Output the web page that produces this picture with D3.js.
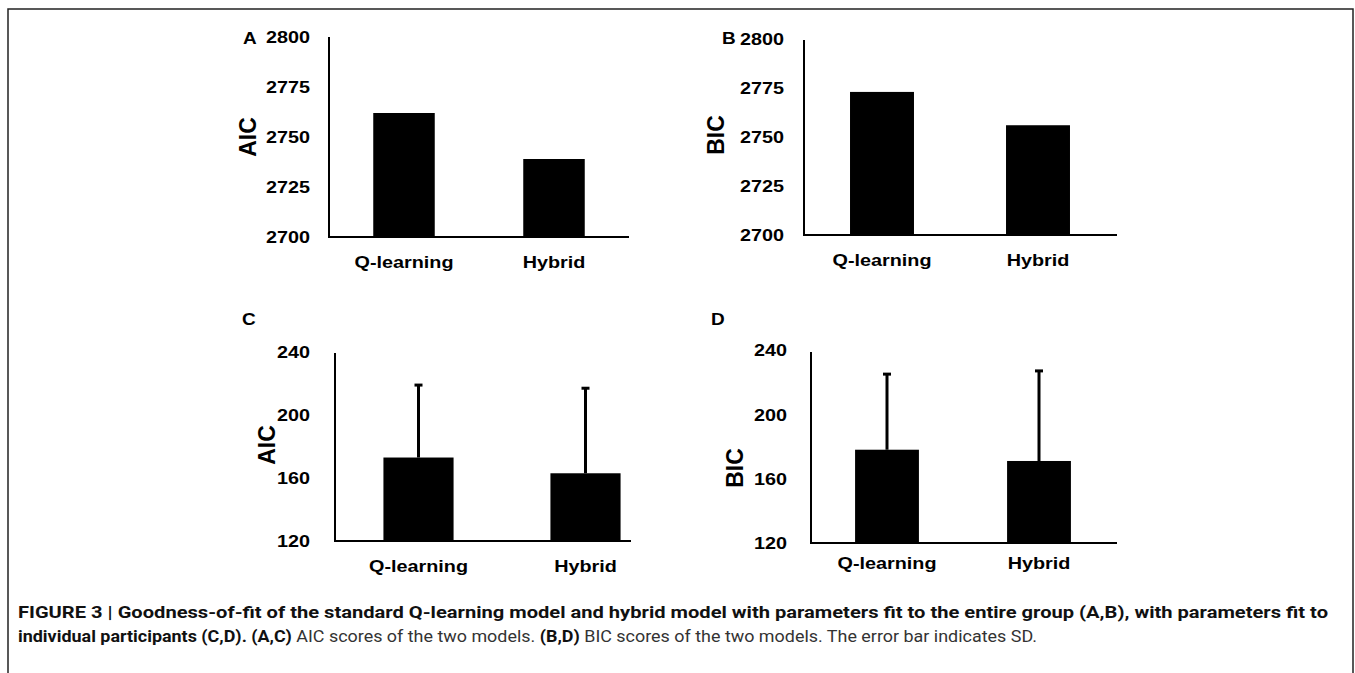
<!DOCTYPE html>
<html>
<head>
<meta charset="utf-8">
<script src="https://cdn.jsdelivr.net/npm/d3@7"></script>
<style>
  html, body { margin: 0; padding: 0; background: #fff; }
  svg { display: block; }
</style>
</head>
<body>
<svg id="chart" width="1355" height="673"></svg>
<script>
// ---------------- data ----------------
const categories = ["Q-learning", "Hybrid"];
const groupTicks = [2700, 2725, 2750, 2775, 2800];
const indivTicks = [120, 160, 200, 240];
const aicGroup = [2762, 2739];
const bicGroup = [2773, 2756];
const aicIndiv = [173, 163];
const aicIndivSD = [46, 54];
const bicIndiv = [178, 171];
const bicIndivSD = [47, 56];
const panelLetters = ["A", "B", "C", "D"];
const yTitles = ["AIC", "BIC", "AIC", "BIC"];
const captionBold1 = "FIGURE 3 | Goodness-of-fit of the standard Q-learning model and hybrid model with parameters fit to the entire group (A,B), with parameters fit to";
const captionLine2 = [
  ["individual participants (C,D). (A,C)", true],
  [" AIC scores of the two models. ", false],
  ["(B,D)", true],
  [" BIC scores of the two models. The error bar indicates SD.", false]
];

// ---------------- layout ----------------
const svg = d3.select("#chart");
const FONT = "'Liberation Sans', Arial, Helvetica, sans-serif";
const SX = 1.2; // horizontal stretch of the reference lettering

// frame
svg.append("path")
  .attr("d", "M8,673 L8,9 L1353,9 L1353,673")
  .attr("fill", "none").attr("stroke", "#222").attr("stroke-width", 1.5);

const panels = [
  { values: aicGroup, sd: null, ticks: groupTicks, domain: [2700, 2800],
    xr: [329, 629], axisEnd: 629, yr: [237, 37], axisTop: 37, tickPad: 19, barFrac: 0.41,
    labelY: 262, title: [248, 137], letter: [243, 38] },
  { values: bicGroup, sd: null, ticks: groupTicks, domain: [2700, 2800],
    xr: [804, 1116], axisEnd: 1117, yr: [235, 39], axisTop: 40, tickPad: 20, barFrac: 0.41,
    labelY: 260, title: [716, 135], letter: [722, 38] },
  { values: aicIndiv, sd: aicIndivSD, ticks: indivTicks, domain: [120, 240],
    xr: [335, 669], axisEnd: 631, yr: [541, 352], axisTop: 353, tickPad: 25, barFrac: 0.42,
    labelY: 566, title: [267, 445], letter: [242, 319] },
  { values: bicIndiv, sd: bicIndivSD, ticks: indivTicks, domain: [120, 240],
    xr: [811, 1115], axisEnd: 1117, yr: [543, 350], axisTop: 352, tickPad: 24, barFrac: 0.42,
    labelY: 563, title: [735, 468], letter: [711, 319] }
];

panels.forEach((p, i) => {
  const g = svg.append("g");
  const x = d3.scalePoint().domain(categories).range(p.xr).padding(0.5);
  const y = d3.scaleLinear().domain(p.domain).range(p.yr);
  const bw = x.step() * p.barFrac;

  // bars
  g.selectAll("rect.bar").data(p.values).join("rect")
    .attr("class", "bar")
    .attr("x", (d, j) => x(categories[j]) - bw / 2)
    .attr("y", d => y(d))
    .attr("width", bw)
    .attr("height", d => y(p.domain[0]) - y(d))
    .attr("fill", "#000");

  // error bars (upper only)
  if (p.sd) {
    const eb = g.selectAll("g.err").data(p.values).join("g").attr("class", "err");
    eb.append("line")
      .attr("x1", (d, j) => x(categories[j]))
      .attr("x2", (d, j) => x(categories[j]))
      .attr("y1", d => y(d))
      .attr("y2", (d, j) => y(d + p.sd[j]))
      .attr("stroke", "#000").attr("stroke-width", 3);
    eb.append("line")
      .attr("x1", (d, j) => x(categories[j]) - 4)
      .attr("x2", (d, j) => x(categories[j]) + 4)
      .attr("y1", (d, j) => y(d + p.sd[j]))
      .attr("y2", (d, j) => y(d + p.sd[j]))
      .attr("stroke", "#000").attr("stroke-width", 3);
  }

  // y axis ticks (labels only)
  const ax = g.append("g")
    .attr("transform", `translate(${p.xr[0]},0)`)
    .call(d3.axisLeft(y).tickValues(p.ticks).tickSize(0).tickPadding(0).tickFormat(d3.format("d")));
  ax.select(".domain").remove();
  ax.selectAll("text")
    .attr("x", -p.tickPad / SX)
    .attr("dy", "0.36em")
    .attr("transform", `scale(${SX},1)`)
    .style("font-family", FONT).style("font-weight", "bold").style("font-size", "16.5px")
    .attr("fill", "#000");

  // axis lines
  g.append("line")
    .attr("x1", p.xr[0]).attr("x2", p.xr[0])
    .attr("y1", p.axisTop).attr("y2", y(p.domain[0]) + 1)
    .attr("stroke", "#000").attr("stroke-width", 2);
  g.append("line")
    .attr("x1", p.xr[0] - 1).attr("x2", p.axisEnd)
    .attr("y1", y(p.domain[0])).attr("y2", y(p.domain[0]))
    .attr("stroke", "#000").attr("stroke-width", 2);

  // category labels
  g.selectAll("text.cat").data(categories).join("text")
    .attr("class", "cat")
    .attr("transform", d => `translate(${x(d)},${p.labelY}) scale(${SX},1)`)
    .attr("text-anchor", "middle")
    .attr("dy", "0.36em")
    .style("font-family", FONT).style("font-weight", "bold").style("font-size", "16.5px")
    .text(d => d);

  // y title
  g.append("text")
    .attr("transform", `translate(${p.title[0]},${p.title[1]}) rotate(-90)`)
    .attr("text-anchor", "middle")
    .attr("dy", "0.36em")
    .style("font-family", FONT).style("font-weight", "bold").style("font-size", "23px")
    .text(yTitles[i]);

  // panel letter
  g.append("text")
    .attr("transform", `translate(${p.letter[0]},${p.letter[1]}) scale(1.15,1)`)
    .attr("dy", "0.36em")
    .style("font-family", FONT).style("font-weight", "bold").style("font-size", "16.5px")
    .text(panelLetters[i]);
});

// caption
const CAPFONT = "Roboto, 'Liberation Sans Narrow', sans-serif";
svg.append("text")
  .attr("x", 18).attr("y", 618)
  .attr("textLength", 1310).attr("lengthAdjust", "spacingAndGlyphs")
  .style("font-family", CAPFONT).style("font-weight", "bold").style("font-size", "16.5px")
  .attr("fill", "#111")
  .text(captionBold1);
const l2 = svg.append("text")
  .attr("x", 18).attr("y", 642)
  .attr("textLength", 1019).attr("lengthAdjust", "spacingAndGlyphs")
  .style("font-family", CAPFONT).style("font-size", "16.5px")
  .attr("fill", "#111");
captionLine2.forEach(([t, b]) => {
  l2.append("tspan").style("font-weight", b ? "bold" : "normal")
    .attr("fill", b ? "#111" : "#333").text(t);
});
</script>
</body>
</html>
